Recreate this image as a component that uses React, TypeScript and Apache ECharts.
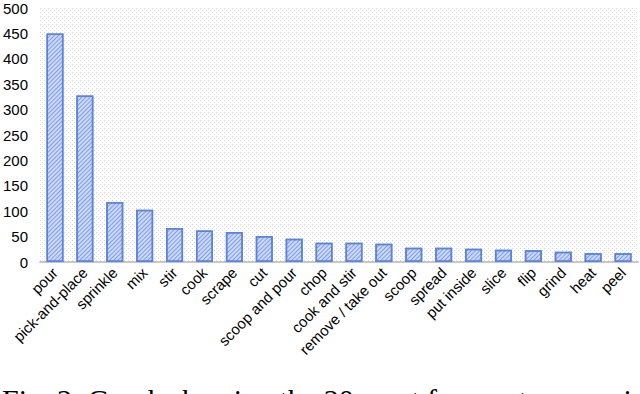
import React, { useEffect, useRef } from "react";
import * as echarts from "echarts";

const categories = [
  "pour", "pick-and-place", "sprinkle", "mix", "stir", "cook", "scrape", "cut",
  "scoop and pour", "chop", "cook and stir", "remove / take out", "scoop", "spread",
  "put inside", "slice", "flip", "grind", "heat", "peel",
];
const counts = [450, 328, 118, 103, 67, 62, 59, 51, 46, 38, 38, 36, 28, 28, 26, 24, 23, 20, 17, 17];
const yTicks = { min: 0, max: 500, interval: 50 };
const caption = "Fig. 2: Graph showing the 20 most frequent among instances";

function dotPattern(): string {
  const c = document.createElement("canvas");
  c.width = 4;
  c.height = 4;
  const ctx = c.getContext("2d")!;
  ctx.fillStyle = "#ffffff";
  ctx.fillRect(0, 0, 4, 4);
  ctx.fillStyle = "#d6d6d6";
  ctx.fillRect(0, 0, 1, 1);
  ctx.fillRect(2, 2, 1, 1);
  return c.toDataURL();
}

export default function App() {
  const ref = useRef<HTMLDivElement>(null);
  useEffect(() => {
    document.body.style.margin = "0";
    if (!ref.current) return;
    const chart = echarts.init(ref.current, null, { renderer: "svg" });
    chart.setOption({
      animation: false,
      backgroundColor: "#ffffff",
      grid: {
        left: 37,
        right: 2,
        top: 8,
        height: 254,
        show: true,
        borderWidth: 0,
        backgroundColor: { image: dotPattern(), repeat: "repeat" },
      },
      xAxis: {
        type: "category",
        data: categories,
        axisLine: { lineStyle: { color: "#c8c8c8", width: 2 } },
        axisTick: { show: false },
        axisLabel: {
          interval: 0,
          rotate: 45,
          fontSize: 15,
          color: "#000",
          fontFamily: "Liberation Sans",
          margin: 8,
        },
      },
      yAxis: {
        type: "value",
        min: yTicks.min,
        max: yTicks.max,
        interval: yTicks.interval,
        axisLine: { show: false },
        axisTick: { show: false },
        splitLine: { show: false },
        axisLabel: { fontSize: 15, color: "#000", fontFamily: "Liberation Sans", margin: 12 },
      },
      series: [
        {
          type: "bar",
          data: counts,
          barWidth: 17,
          itemStyle: {
            color: "#cbd8f6",
            borderColor: "#5b82dc",
            borderWidth: 1.5,
            decal: {
              symbol: "rect",
              symbolSize: 1,
              rotation: -Math.PI / 4,
              dashArrayX: [1, 0],
              dashArrayY: [1, 1.6],
              color: "rgba(90,128,218,0.65)",
            },
          },
        },
      ],
      graphic: [
        {
          type: "text",
          left: 2,
          top: 384,
          style: {
            text: caption,
            fontSize: 30,
            fontFamily: "Liberation Serif",
            fill: "#000",
          },
        },
      ],
    });
    return () => chart.dispose();
  }, []);
  return <div ref={ref} style={{ width: 640, height: 394 }} />;
}
